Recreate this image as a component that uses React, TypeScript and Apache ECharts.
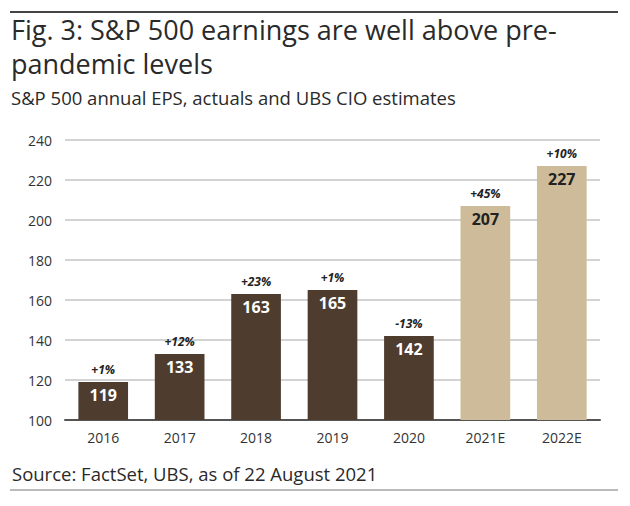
import React, { useEffect, useRef } from "react";
import * as echarts from "echarts";

const categories = ["2016", "2017", "2018", "2019", "2020", "2021E", "2022E"];
const eps = [119, 133, 163, 165, 142, 207, 227];
const changes = ["+1%", "+12%", "+23%", "+1%", "-13%", "+45%", "+10%"];
const isEstimate = [false, false, false, false, false, true, true];
const yTicks = [100, 120, 140, 160, 180, 200, 220, 240];

const DARK = "#4e3d2f";
const LIGHT = "#cebb99";
const FONT = "'Open Sans', 'Noto Sans', sans-serif";

export default function App() {
  const ref = useRef<HTMLDivElement>(null);
  useEffect(() => {
    if (!ref.current) return;
    const chart = echarts.init(ref.current, null, { renderer: "svg" });
    chart.setOption({
      animation: false,
      backgroundColor: "#ffffff",
      textStyle: { fontFamily: FONT },
      grid: { left: 65, right: 30, top: 140, bottom: 86 },
      xAxis: {
        type: "category",
        data: categories,
        axisLine: { lineStyle: { color: "#555", width: 2 } },
        axisTick: { show: false },
        axisLabel: { color: "#333", fontSize: 14, margin: 10, fontFamily: FONT },
      },
      yAxis: {
        type: "value",
        min: yTicks[0],
        max: yTicks[yTicks.length - 1],
        interval: 20,
        axisLine: { show: false },
        axisTick: { show: false },
        axisLabel: { color: "#333", fontSize: 14, margin: 13, fontFamily: FONT },
        splitLine: { lineStyle: { color: "#c4c4c4", width: 1.5 } },
      },
      series: [
        {
          type: "bar",
          barWidth: "65%",
          data: eps.map((v, i) => ({
            value: v,
            itemStyle: { color: isEstimate[i] ? LIGHT : DARK },
            label: { color: isEstimate[i] ? "#222" : "#ffffff" },
          })),
          label: {
            show: true,
            position: "insideTop",
            distance: 5,
            fontSize: 16,
            fontWeight: "bold",
            fontFamily: FONT,
          },
          z: 2,
        },
        {
          type: "bar",
          barWidth: "65%",
          barGap: "-100%",
          data: eps,
          itemStyle: { color: "rgba(0,0,0,0)" },
          label: {
            show: true,
            position: "top",
            distance: 7,
            fontSize: 12,
            fontWeight: "bold",
            fontStyle: "italic",
            color: "#222",
            fontFamily: FONT,
            formatter: (p: any) => changes[p.dataIndex],
          },
          silent: true,
          z: 3,
        },
      ],
      graphic: [
        { type: "line", shape: { x1: 10, y1: 12, x2: 618, y2: 12 }, style: { stroke: "#444", lineWidth: 2 } },
        {
          type: "text",
          x: 11,
          y: 16,
          style: { text: "Fig. 3: S&P 500 earnings are well above pre-", font: `27px ${FONT}`, fill: "#2a2a2a" },
        },
        {
          type: "text",
          x: 11,
          y: 50,
          style: { text: "pandemic levels", font: `27px ${FONT}`, fill: "#2a2a2a" },
        },
        {
          type: "text",
          x: 11,
          y: 88,
          style: { text: "S&P 500 annual EPS, actuals and UBS CIO estimates", font: `18.5px ${FONT}`, fill: "#2a2a2a" },
        },
        {
          type: "text",
          x: 12,
          y: 464,
          style: { text: "Source: FactSet, UBS, as of 22 August 2021", font: `18.5px ${FONT}`, fill: "#2a2a2a" },
        },
        { type: "line", shape: { x1: 10, y1: 490, x2: 618, y2: 490 }, style: { stroke: "#777", lineWidth: 1 } },
      ],
    });
    return () => chart.dispose();
  }, []);
  return <div ref={ref} style={{ width: 630, height: 506, position: "absolute", left: 0, top: 0 }} />;
}
